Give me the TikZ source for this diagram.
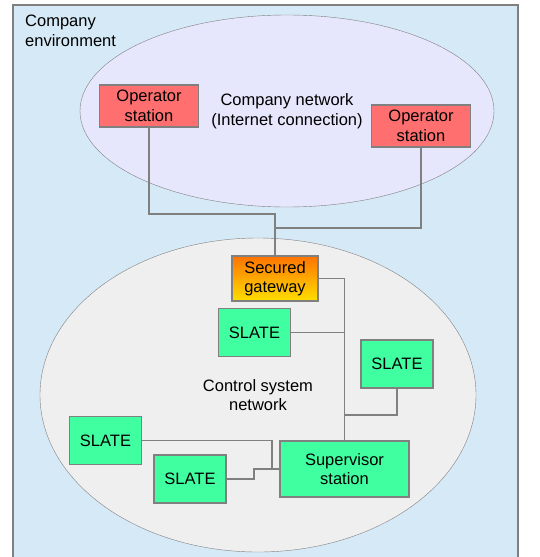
\documentclass[tikz,border=0pt]{standalone}
\usepackage{fontspec}
\setmainfont{Liberation Sans}
\usepackage{tikz}
\usetikzlibrary{positioning, shapes.geometric, shadings}

\definecolor{envblue}{HTML}{D6E9F6}
\definecolor{netlilac}{HTML}{E6E6FC}
\definecolor{ctlgray}{HTML}{EFEFEF}
\definecolor{oprred}{HTML}{FF6F6F}
\definecolor{slategreen}{HTML}{40FFA0}
\definecolor{wiregray}{HTML}{808080}

\begin{document}
\begin{tikzpicture}[x=1pt, y=-1pt,
                    font=\fontsize{16.5}{19.5}\selectfont,
                    box/.style={draw=wiregray, line width=1.3pt, align=center, inner sep=0pt},
                    operator/.style={box, fill=oprred, minimum width=99pt, minimum height=42pt},
                    slate/.style={box, fill=slategreen, minimum width=72pt, minimum height=48pt},
                    wire/.style={draw=wiregray, line width=1.1pt}]
                    \useasboundingbox (0, 0) rectangle (540, 557);
                    \fill [envblue] (13, 5) rectangle (518, 557);
                    \draw [wiregray, line width=1.3pt] (13, 557) |- (518, 5) -- (518, 557);
                    \node [anchor=north west, align=left, inner sep=0pt] (env) at (25, 15) {Company\\environment};

                    \draw [wiregray, fill=netlilac] (287, 111) ellipse [x radius=207pt, y radius=96pt];
                    \draw [wiregray, fill=ctlgray] (258, 395) ellipse [x radius=218pt, y radius=157pt];
                    \node [align=center] (company) at (287, 111) {Company network\\(Internet connection)};
                    \node [align=center] (control) at (258, 395) {Control system\\network};

                    \node [operator] (opL) at (149, 106) {Operator\\station};
                    \node [operator] (opR) at (421, 126) {Operator\\station};
                    \node [box, minimum width=86pt, minimum height=45pt, top color=orange!90!red, bottom color=yellow!75!orange] (gw) at (275, 278.5) {Secured\\gateway};
                    \node [slate] (s1) at (254.5, 332.5) {SLATE};
                    \node [slate] (s2) at (397, 364) {SLATE};
                    \node [slate] (s3) at (105.5, 440.5) {SLATE};
                    \node [slate] (s4) at (190, 479) {SLATE};
                    \node [box, fill=slategreen, minimum width=129pt, minimum height=56pt] (sup) at (344.5, 469) {Supervisor\\station};

                    \coordinate (jL) at (275, 214);
                    \coordinate (jR) at (275, 228);
                    \coordinate (jS) at (344.5, 415);
                    \coordinate (jA) at (272, 469);
                    \coordinate (jB) at (254, 469);

                    \draw [wire] (opL.south) |- (jL) -- (gw.north);
                    \draw [wire] (opR.south) |- (jR);
                    \draw [wire] (gw.east) -| (sup.north);
                    \draw [wire] (s1.east) -- (s1.east -| sup.north);
                    \draw [wire] (s2.south) |- (jS);
                    \draw [wire] (s3.east) -| (jA) -- (sup.west);
                    \draw [wire] (s4.east) -| (jB) -- (jA);
                \end{tikzpicture}
\end{document}
